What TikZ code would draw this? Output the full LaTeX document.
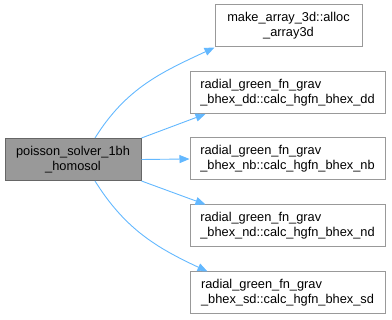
\documentclass[tikz,border=0pt]{standalone}
\usepackage{fontspec}
\setmainfont{Liberation Sans}
\usetikzlibrary{arrows.meta}

\definecolor{callblue}{HTML}{63B8FF}
\definecolor{boxgray}{HTML}{999999}
\definecolor{rootgray}{HTML}{666666}

\tikzset{
  fnbox/.style={draw=boxgray, fill=white, line width=1pt, inner sep=0pt,
    align=left, minimum height=42pt, font=\fontsize{12.8}{15}\selectfont},
  rootbox/.style={fnbox, draw=rootgray, fill=boxgray, align=center},
  call/.style={draw=callblue, line width=0.9pt, -{Triangle[length=10pt,width=8pt]}}
}

\begin{document}
\begin{tikzpicture}[x=1pt,y=1pt]
\useasboundingbox (0,0) rectangle (392,320);

% caller
\node[rootbox, minimum width=136pt] (solver) at (73,160.5) {poisson\_solver\_1bh\\\_homosol};

% callees
\node[fnbox, align=center, minimum width=147pt] (alloc) at (288.5,294) {make\_array\_3d::alloc\\\_array3d};
\node[fnbox, minimum width=195pt] (calcdd) at (287.5,227.5) {radial\_green\_fn\_grav\\\_bhex\_dd::calc\_hgfn\_bhex\_dd};
\node[fnbox, minimum width=195pt] (calcnb) at (287.5,161) {radial\_green\_fn\_grav\\\_bhex\_nb::calc\_hgfn\_bhex\_nb};
\node[fnbox, minimum width=195pt] (calcnd) at (287.5,94) {radial\_green\_fn\_grav\\\_bhex\_nd::calc\_hgfn\_bhex\_nd};
\node[fnbox, minimum width=195pt] (calcsd) at (287.5,27) {radial\_green\_fn\_grav\\\_bhex\_sd::calc\_hgfn\_bhex\_sd};

% calls
\draw[call] ([xshift=22pt]solver.north) to[out=58,in=205] (alloc.south west);
\draw[call] (solver.north east) -- ([xshift=16pt]calcdd.south west);
\draw[call] (solver.east) -- (calcnb.west);
\draw[call] (solver.south east) -- ([xshift=16pt]calcnd.north west);
\draw[call] ([xshift=22pt]solver.south) to[out=-58,in=155] ([xshift=18pt]calcsd.north west);
\end{tikzpicture}
\end{document}
